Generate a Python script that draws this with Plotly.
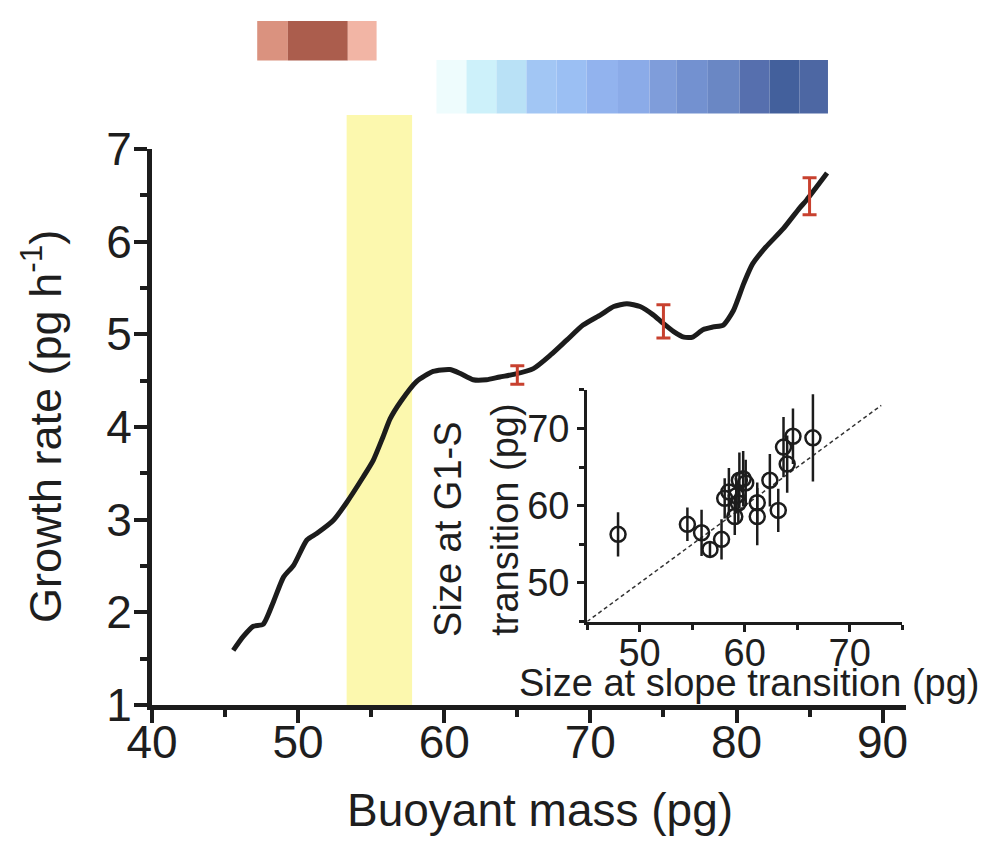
import plotly.graph_objects as go

# ---------------- data ----------------
# main curve: growth rate vs buoyant mass
mass = [45.56, 46.25, 46.93, 47.6, 48.3, 49.0, 49.7, 50.6, 51.27, 52.4, 53.3, 54.45,
        55.14, 55.8, 56.3, 57.0, 58.1, 59.24, 60.38, 61.07, 61.98, 62.89, 63.8, 64.83,
        66.1, 67.3, 68.4, 69.5, 70.7, 71.6, 72.5, 73.4, 74.3, 74.9, 75.7, 76.4, 77.0,
        77.7, 78.4, 79.1, 79.8, 80.5, 81.1, 82.0, 83.2, 84.3, 84.8, 86.2]
growth = [1.59, 1.74, 1.85, 1.87, 2.11, 2.38, 2.51, 2.78, 2.85, 2.99, 3.18, 3.46,
          3.64, 3.89, 4.09, 4.27, 4.49, 4.60, 4.62, 4.58, 4.51, 4.51, 4.54, 4.57,
          4.63, 4.78, 4.94, 5.10, 5.21, 5.30, 5.33, 5.30, 5.21, 5.13, 5.03, 4.97, 4.97,
          5.05, 5.08, 5.10, 5.26, 5.55, 5.76, 5.94, 6.14, 6.36, 6.45, 6.74]

# red error bars on the curve
err_mass = [65, 75, 85]
err_growth = [4.56, 5.14, 6.49]
err_size = [0.10, 0.18, 0.20]

# highlighted window (yellow band)
band_mass = [53.32, 57.8]

# colour strips above the plot (mass boundaries and colours)
red_edges = [47.2, 49.3, 53.4, 55.37]
red_colors = ["#da927f", "#ab5d4d", "#f2b5a5"]
blue_edges = [59.47, 61.52, 63.57, 65.62, 67.68, 69.73, 71.89, 74.05, 75.88,
              78.04, 80.22, 82.27, 84.32, 86.26]
blue_colors = ["#eefcfd", "#cdf1fa", "#b9e1f6", "#a2c6f4", "#9bbff3", "#92b3ee",
               "#8babe8", "#7f9dda", "#7391d0", "#6a87c4", "#566fae", "#43609c", "#4d67a3"]

# inset: size at slope transition vs size at G1-S transition
slope_size = [47.95, 54.55, 55.9, 56.7, 57.8, 58.1, 58.5, 59.06, 59.2, 59.4, 59.5,
              59.86, 60.1, 61.2, 61.2, 62.4, 63.2, 63.7, 64.05, 64.6, 66.5]
g1s_size = [56.3, 57.6, 56.5, 54.35, 55.65, 60.96, 61.8, 58.6, 61.3, 60.35, 63.3,
            63.5, 62.96, 60.4, 58.6, 63.3, 59.4, 67.6, 65.4, 69.0, 68.8]
g1s_err = [2.87, 2.17, 3.0, 1.0, 2.6, 2.6, 3.1, 2.4, 2.3, 2.5, 3.6,
           3.6, 3.0, 2.6, 3.7, 3.4, 2.8, 3.9, 3.7, 3.6, 5.65]
identity = [45, 73]

# ---------------- figure ----------------
FONT = "Liberation Sans, Arial, sans-serif"
INK = "#1c1c1c"
TXT = "#1e1e1e"
fig = go.Figure()

fig.add_trace(go.Scatter(x=mass, y=growth, mode="lines",
                         line=dict(color=INK, width=5, shape="spline", smoothing=0.6),
                         showlegend=False, hoverinfo="skip"))
fig.add_trace(go.Scatter(x=err_mass, y=err_growth, mode="markers",
                         marker=dict(size=1, color="rgba(0,0,0,0)"),
                         error_y=dict(type="data", array=err_size, visible=True,
                                      color="#c8412f", thickness=3, width=7),
                         showlegend=False, hoverinfo="skip"))

# inset traces
fig.add_trace(go.Scatter(x=identity, y=identity, mode="lines", xaxis="x2", yaxis="y2",
                         line=dict(color="#333333", width=1.5, dash="4px,3px"),
                         showlegend=False, hoverinfo="skip"))
fig.add_trace(go.Scatter(x=slope_size, y=g1s_size, mode="markers", xaxis="x2", yaxis="y2",
                         marker=dict(symbol="circle-open", size=15, color=INK,
                                     line=dict(width=2.5, color=INK)),
                         error_y=dict(type="data", array=g1s_err, visible=True,
                                      color=INK, thickness=2.5, width=0),
                         showlegend=False, hoverinfo="skip"))

shapes = []
shapes.append(dict(type="rect", xref="x", yref="paper", x0=band_mass[0], x1=band_mass[1],
                   y0=0, y1=1.061, fillcolor="#fcf8ae", line=dict(width=0), layer="below"))
for i, c in enumerate(red_colors):
    shapes.append(dict(type="rect", xref="x", yref="paper", x0=red_edges[i], x1=red_edges[i + 1],
                       y0=1.159, y1=1.230, fillcolor=c, line=dict(width=0)))
for i, c in enumerate(blue_colors):
    shapes.append(dict(type="rect", xref="x", yref="paper", x0=blue_edges[i], x1=blue_edges[i + 1],
                       y0=1.064, y1=1.160, fillcolor=c, line=dict(width=0)))

axis_main = dict(showline=True, linewidth=5, linecolor=INK, ticks="outside",
                 tickwidth=4, tickcolor=INK, ticklen=13, showgrid=False, zeroline=False,
                 tickfont=dict(family=FONT, size=46, color=TXT))
axis_inset = dict(showline=True, linewidth=3, linecolor=INK, ticks="outside",
                  tickwidth=3, tickcolor=INK, ticklen=7, showgrid=False, zeroline=False,
                  range=[45, 75], tick0=50, dtick=10,
                  minor=dict(ticks="outside", dtick=5, tick0=45, ticklen=5, tickwidth=3, tickcolor=INK),
                  tickfont=dict(family=FONT, size=38, color=TXT))


def note(text, x, y, size, angle=0):
    return dict(text=text, xref="paper", yref="paper", x=x, y=y, xanchor="center",
                yanchor="middle", textangle=angle, showarrow=False,
                font=dict(family=FONT, size=size, color=TXT))


fig.update_layout(
    width=1006, height=843,
    margin=dict(l=152, r=100, t=149, b=138, pad=0),
    paper_bgcolor="white", plot_bgcolor="rgba(0,0,0,0)",
    xaxis=dict(**axis_main, range=[40, 91.6], tick0=40, dtick=10, ticklabelstandoff=-20,
               minor=dict(ticks="outside", dtick=5, tick0=40, ticklen=7, tickwidth=4, tickcolor=INK)),
    yaxis=dict(**axis_main, range=[1, 7], tick0=1, dtick=1, ticklabelstandoff=-7,
               minor=dict(ticks="outside", dtick=0.5, tick0=1, ticklen=7, tickwidth=4, tickcolor=INK)),
    xaxis2=dict(**axis_inset, domain=[0.577, 0.995], anchor="y2", ticklabelstandoff=-11),
    yaxis2=dict(**axis_inset, domain=[0.150, 0.5666], anchor="x2"),
    shapes=shapes,
    annotations=[
        note("Buoyant mass (pg)", 0.5146, -0.189, 46),
        note("Growth rate (pg h<sup>-1</sup>)", -0.1459, 0.5018, 45, -90),
        note("Size at slope transition (pg)", 0.7918, 0.0396, 38),
        note("Size at G1-S", 0.3926, 0.315, 38, -90),
        note("transition (pg)", 0.468, 0.333, 38, -90),
    ],
)

fig.write_html("out.html")
